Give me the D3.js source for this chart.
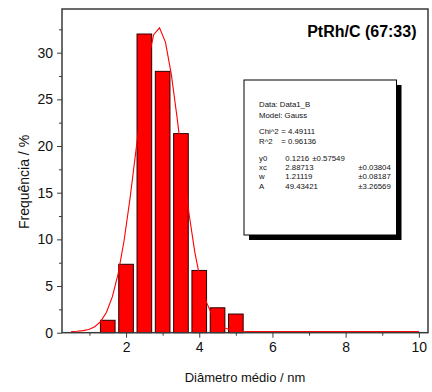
<!DOCTYPE html>
<html>
<head>
<meta charset="utf-8">
<script src="https://cdn.jsdelivr.net/npm/d3@7"></script>
<style>
  html, body { margin: 0; padding: 0; background: #fff; }
  svg { display: block; font-family: "Liberation Sans", Arial, sans-serif; }
</style>
</head>
<body>
<div id="chart"></div>
<script>
// Histogram bins (centre of bin, nm) and frequencies (%)
const binCenters = [1.5, 2.0, 2.5, 3.0, 3.5, 4.0, 4.5, 5.0];
const frequencies = [1.33, 7.33, 32.0, 28.0, 21.33, 6.67, 2.67, 2.0];

// Gauss fit curve
const fitX = [0.5, 0.661, 0.822, 0.983, 1.144, 1.305, 1.466, 1.627, 1.788, 1.949,
              2.11, 2.271, 2.432, 2.593, 2.754, 2.915, 3.076, 3.237, 3.398, 3.559,
              3.72, 3.881, 4.042, 4.203, 4.364, 4.525, 4.686, 4.847, 5.008, 5.169,
              5.33, 10.0];
const fitY = [0.13, 0.16, 0.22, 0.35, 0.64, 1.19, 2.19, 3.86, 6.39, 9.93,
              14.42, 19.53, 24.68, 29.07, 31.92, 32.66, 31.14, 27.68, 22.93, 17.71,
              12.76, 8.58, 5.40, 3.19, 1.78, 0.96, 0.52, 0.29, 0.19, 0.15,
              0.13, 0.12];

const xMajorTicks = [2, 4, 6, 8, 10];
const xMinorTicks = [1, 3, 5, 7, 9];
const yMajorTicks = [0, 5, 10, 15, 20, 25, 30];
const yMinorTicks = [2.5, 7.5, 12.5, 17.5, 22.5, 27.5, 32.5];

const title = 'PtRh/C (67:33)';
const xTitle = 'Diâmetro médio / nm';
const yTitle = 'Frequência / %';

// Fit report box
const boxLabels = ['Data: Data1_B', 'Model: Gauss', 'Chi^2', 'R^2', 'y0', 'xc', 'w', 'A'];
const boxValues = ['', '', '= 4.49111', '= 0.96136', '0.1216', '2.88713', '1.21119', '49.43421'];
const boxErrors = ['', '', '', '', '±0.57549', '±0.03804', '±0.08187', '±3.26569'];

const W = 432, H = 392;
const plot = { left: 62, right: 428, top: 9, bottom: 332.7 };

const svg = d3.select('#chart').append('svg')
    .attr('width', W)
    .attr('height', H);

const x = d3.scaleLinear().domain([0.25, 10.25]).range([plot.left, plot.right]);
const y = d3.scaleLinear().domain([0, 34.68]).range([plot.bottom, plot.top]);

const binWidth = 0.4;

// Bars
svg.append('g')
    .selectAll('rect')
    .data(binCenters)
    .enter().append('rect')
    .attr('x', (d) => x(d - binWidth / 2))
    .attr('width', x(binWidth) - x(0))
    .attr('y', (d, i) => y(frequencies[i]))
    .attr('height', (d, i) => y(0) - y(frequencies[i]))
    .attr('fill', '#ff0000')
    .attr('stroke', '#2a0000')
    .attr('stroke-width', 1);

// Fit curve
const line = d3.line()
    .x((d) => x(d))
    .y((d, i) => y(fitY[i]));

svg.append('path')
    .attr('d', line(fitX))
    .attr('fill', 'none')
    .attr('stroke', '#ff0000')
    .attr('stroke-width', 1.1);

// Axes
const axisColor = '#3a3a3a';

svg.append('g')
    .attr('transform', `translate(0,${plot.bottom})`)
    .call(d3.axisBottom(x).tickValues(xMajorTicks).tickSize(5).tickPadding(4).tickFormat(d3.format('d')));
svg.append('g')
    .attr('transform', `translate(0,${plot.bottom})`)
    .call(d3.axisBottom(x).tickValues(xMinorTicks).tickSize(3).tickFormat(''));

svg.append('g')
    .attr('transform', `translate(${plot.left},0)`)
    .call(d3.axisLeft(y).tickValues(yMajorTicks).tickSize(5).tickPadding(4).tickFormat(d3.format('d')));
svg.append('g')
    .attr('transform', `translate(${plot.left},0)`)
    .call(d3.axisLeft(y).tickValues(yMinorTicks).tickSize(3).tickFormat(''));

svg.selectAll('.domain').remove();
svg.selectAll('.tick line').attr('stroke', axisColor).attr('stroke-width', 1);
svg.selectAll('.tick text')
    .attr('fill', '#111')
    .style('font-family', '"Liberation Sans", Arial, sans-serif')
    .style('font-size', '14px');

// Frame
svg.append('rect')
    .attr('x', plot.left)
    .attr('y', plot.top)
    .attr('width', plot.right - plot.left)
    .attr('height', plot.bottom - plot.top)
    .attr('fill', 'none')
    .attr('stroke', axisColor)
    .attr('stroke-width', 1.5);

// Titles
svg.append('text')
    .attr('x', 416.5)
    .attr('y', 36.5)
    .attr('text-anchor', 'end')
    .style('font-size', '16px')
    .style('font-weight', 'bold')
    .attr('fill', '#000')
    .text(title);

svg.append('text')
    .attr('x', (plot.left + plot.right) / 2)
    .attr('y', 382)
    .attr('text-anchor', 'middle')
    .style('font-size', '13px')
    .attr('fill', '#111')
    .text(xTitle);

svg.append('text')
    .attr('transform', 'translate(28.5,182) rotate(-90)')
    .attr('text-anchor', 'middle')
    .style('font-size', '14px')
    .attr('fill', '#111')
    .text(yTitle);

// Fit report box with shadow
const box = { x: 244, y: 80, w: 152.5, h: 155 };
svg.append('rect')
    .attr('x', box.x + 5).attr('y', box.y + 5)
    .attr('width', box.w).attr('height', box.h)
    .attr('fill', '#000');
svg.append('rect')
    .attr('x', box.x).attr('y', box.y)
    .attr('width', box.w).attr('height', box.h)
    .attr('fill', '#fff')
    .attr('stroke', '#000')
    .attr('stroke-width', 1);

const rowY = [106.5, 118, 134, 144, 160.5, 170, 179.3, 188.6];
const boxText = svg.append('g')
    .style('font-size', '7.8px')
    .attr('fill', '#111');

boxLabels.forEach((label, i) => {
    boxText.append('text').attr('x', 259).attr('y', rowY[i]).text(label);
    if (boxValues[i]) {
        boxText.append('text')
            .attr('x', i < 4 ? 281.3 : 285.3)
            .attr('y', rowY[i])
            .text(boxValues[i]);
    }
    if (boxErrors[i]) {
        boxText.append('text')
            .attr('x', i === 4 ? 312.3 : 358.3)
            .attr('y', rowY[i])
            .text(boxErrors[i]);
    }
});
</script>
</body>
</html>
